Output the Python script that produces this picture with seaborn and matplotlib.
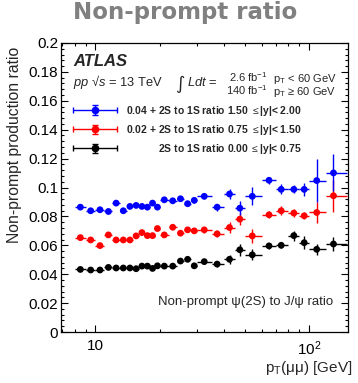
import numpy as np
import pandas as pd
import matplotlib
matplotlib.use("Agg")
import matplotlib.pyplot as plt
import seaborn as sns
from matplotlib.ticker import MultipleLocator, FixedLocator, FixedFormatter, NullFormatter
from matplotlib.legend_handler import HandlerErrorbar
from matplotlib.container import ErrorbarContainer

# pT bins (GeV): lower edge, upper edge and mean pT of each bin
pt_low = [8, 9, 10, 11, 12, 13, 14, 15, 16, 17, 18, 19, 20, 22, 24, 26, 28,
          30, 35, 40, 45, 50, 60, 70, 80, 90, 100, 120]
pt_high = [9, 10, 11, 12, 13, 14, 15, 16, 17, 18, 19, 20, 22, 24, 26, 28, 30,
           35, 40, 45, 50, 60, 70, 80, 90, 100, 120, 150]
pt_mean = [8.5, 9.5, 10.5, 11.5, 12.5, 13.5, 14.5, 15.5, 16.5, 17.5, 18.5, 19.5,
           21.0, 23.0, 25.0, 27.0, 29.0, 32.3, 37.1, 42.4, 47.4, 54.2,
           64.9, 74.0, 84.8, 94.8, 108.5, 130.0]

# Non-prompt psi(2S)/J/psi ratio, 1.50 <= |y| < 2.00
ratio_fwd = [0.0464, 0.0439, 0.0446, 0.0434, 0.0492, 0.0439, 0.0469, 0.0476,
             0.0469, 0.0464, 0.0492, 0.0464, 0.0515, 0.0508, 0.0522, 0.0488,
             0.0511, 0.0539, 0.0464, 0.0555, 0.0457, 0.0539, 0.0650, 0.0587,
             0.0587, 0.0587, 0.0648, 0.0701]
err_fwd = [0.0012] * 12 + [0.0015, 0.0015, 0.0015, 0.0018, 0.0018, 0.0022,
                           0.0025, 0.0037, 0.0049, 0.0062, 0.0023, 0.0035,
                           0.0028, 0.0045, 0.0146, 0.0128]

# 0.75 <= |y| < 1.50
ratio_mid = [0.0453, 0.0437, 0.0398, 0.0472, 0.0437, 0.0437, 0.0437, 0.0465,
             0.0488, 0.0467, 0.0467, 0.0516, 0.0472, 0.0525, 0.0484, 0.0507,
             0.0500, 0.0507, 0.0479, 0.0523, 0.0581, 0.0465, 0.0611, 0.0639,
             0.0623, 0.0604, 0.0627, 0.0743]
err_mid = [0.0012] * 12 + [0.0014, 0.0015, 0.0015, 0.0016, 0.0017, 0.0020,
                           0.0025, 0.0035, 0.0040, 0.0050, 0.0023, 0.0030,
                           0.0025, 0.0025, 0.0070, 0.0110]

# 0.00 <= |y| < 0.75
ratio_cen = [0.0433, 0.0429, 0.0429, 0.0447, 0.0443, 0.0443, 0.0443, 0.0438,
             0.0456, 0.0456, 0.0440, 0.0458, 0.0456, 0.0456, 0.0491, 0.0503,
             0.0458, 0.0487, 0.0470, 0.0503, 0.0569, 0.0534, 0.0596, 0.0600,
             0.0667, 0.0618, 0.0572, 0.0609]
err_cen = [0.0010] * 12 + [0.0012, 0.0012, 0.0013, 0.0014, 0.0015, 0.0018,
                           0.0020, 0.0030, 0.0040, 0.0038, 0.0020, 0.0020,
                           0.0035, 0.0046, 0.0037, 0.0050]

offsets = [0.04, 0.02, 0.0]
colors = ["#0000ff", "#ff0000", "#000000"]
labels = ["0.04 + 2S to 1S ratio 1.50 $\\leq$|y|< 2.00",
          "0.02 + 2S to 1S ratio 0.75 $\\leq$|y|< 1.50",
          "2S to 1S ratio 0.00 $\\leq$|y|< 0.75"]

rows = []
for name, vals, errs, off in zip(["fwd", "mid", "cen"],
                                 [ratio_fwd, ratio_mid, ratio_cen],
                                 [err_fwd, err_mid, err_cen], offsets):
    for lo, hi, m, v, e in zip(pt_low, pt_high, pt_mean, vals, errs):
        rows.append(dict(region=name, pt=m, xlo=m - lo, xhi=hi - m,
                         ratio=v + off, err=e))
df = pd.DataFrame(rows)

sns.set_theme(style="ticks")
plt.rcParams["font.family"] = ["Liberation Sans", "DejaVu Sans"]
plt.rcParams["mathtext.fontset"] = "custom"
plt.rcParams["mathtext.rm"] = "Liberation Sans"
plt.rcParams["mathtext.it"] = "Liberation Sans:italic"
plt.rcParams["mathtext.bf"] = "Liberation Sans:bold"

fig = plt.figure(figsize=(3.58, 3.83), dpi=100)
ax = fig.add_axes([61 / 358, 1 - 332 / 383, 287 / 358, 289 / 383])

palette = dict(zip(["fwd", "mid", "cen"], colors))
for name in ["cen", "mid", "fwd"]:
    d = df[df.region == name]
    ax.errorbar(d.pt, d.ratio, xerr=[d.xlo, d.xhi], yerr=d.err, fmt="none",
                ecolor=palette[name], elinewidth=1.0, capsize=0, zorder=2)
sns.scatterplot(data=df, x="pt", y="ratio", hue="region", palette=palette,
                s=24, linewidth=0, legend=False, ax=ax, zorder=3)

ax.set_xscale("log")
ax.set_xlim(6.9, 152)
ax.set_ylim(0, 0.2)

ax.xaxis.set_major_locator(FixedLocator([10, 100]))
ax.xaxis.set_major_formatter(FixedFormatter(["10", "$10^{2}$"]))
ax.xaxis.set_minor_locator(FixedLocator([7, 8, 9, 20, 30, 40, 50, 60, 70, 80, 90]))
ax.xaxis.set_minor_formatter(NullFormatter())
ax.yaxis.set_major_locator(MultipleLocator(0.02))
ax.yaxis.set_minor_locator(MultipleLocator(0.004))
ax.yaxis.set_major_formatter(plt.FuncFormatter(lambda v, p: f"{v:g}"))

ax.tick_params(which="both", direction="in", top=True, right=True,
               width=0.8, colors="black", labelsize=11)
ax.tick_params(which="major", length=5)
ax.tick_params(which="minor", length=2.5)
ax.tick_params(axis="x", which="major", pad=5)
ax.tick_params(axis="y", which="major", pad=2)
for s in ax.spines.values():
    s.set_linewidth(0.9)
    s.set_color("black")

ax.set_xlabel("p$_{\\mathrm{T}}$(\u03bc\u03bc) [GeV]", fontsize=11, loc="right")
ax.xaxis.set_label_coords(1.014, -0.095)
ax.set_ylabel("Non-prompt production ratio", fontsize=11.3, loc="top")
ax.yaxis.set_label_coords(-0.135, 0.988)

# Legend with error-bar handles
handles = []
for c in colors:
    h = ax.errorbar([np.nan], [np.nan], xerr=[1], yerr=[1], fmt="o", color=c,
                    ms=4.5, capsize=2.5, elinewidth=1.0, capthick=1.0)
    handles.append(h)
leg = ax.legend(handles, labels, loc="upper left", bbox_to_anchor=(0.042, 0.79),
                frameon=False, handlelength=4.2, handletextpad=0.9,
                labelspacing=0.5, borderaxespad=0, borderpad=0,
                prop={"weight": "bold", "size": 7.5},
                handler_map={ErrorbarContainer: HandlerErrorbar(xerr_size=2.1,
                                                                yerr_size=0.45)})

ax.text(0.043, 0.92, "ATLAS", transform=ax.transAxes, fontsize=12,
        fontweight="bold", fontstyle="italic", va="baseline")
ax.text(0.043, 0.851, "$pp$ \u221a$s$ = 13 TeV", transform=ax.transAxes,
        fontsize=9.3, va="baseline")
ax.text(0.398, 0.84, "\u222b", transform=ax.transAxes, fontsize=13,
        va="baseline", family=["DejaVu Sans"])
ax.text(0.44, 0.851, "$Ldt$ =", transform=ax.transAxes, fontsize=9.3,
        va="baseline")
ax.text(0.72, 0.866, "2.6 fb$^{-1}$", transform=ax.transAxes, fontsize=8,
        va="baseline", ha="right")
ax.text(0.72, 0.821, "140 fb$^{-1}$", transform=ax.transAxes, fontsize=8,
        va="baseline", ha="right")
ax.text(0.737, 0.866, "p$_{\\mathrm{T}}$ < 60 GeV", transform=ax.transAxes,
        fontsize=8, va="baseline")
ax.text(0.737, 0.821, "p$_{\\mathrm{T}}$ \u2265 60 GeV", transform=ax.transAxes,
        fontsize=8, va="baseline")
ax.text(0.947, 0.093, "Non-prompt \u03c8(2S) to J/\u03c8 ratio",
        transform=ax.transAxes, fontsize=9.5, va="baseline", ha="right")

fig.text(185 / 358, 1 - 19 / 383, "Non-prompt ratio", ha="center",
         va="baseline", fontsize=16.5, fontweight="bold", color="#808080",
         family=["DejaVu Sans"])

# right-align the legend labels
fig.canvas.draw()
renderer = fig.canvas.get_renderer()
texts = leg.get_texts()
widths = [t.get_window_extent(renderer).width for t in texts]
wmax = max(widths)
for t, w in zip(texts, widths):
    t.set_position((wmax - w, 0))

fig.savefig("out.png", dpi=100)
